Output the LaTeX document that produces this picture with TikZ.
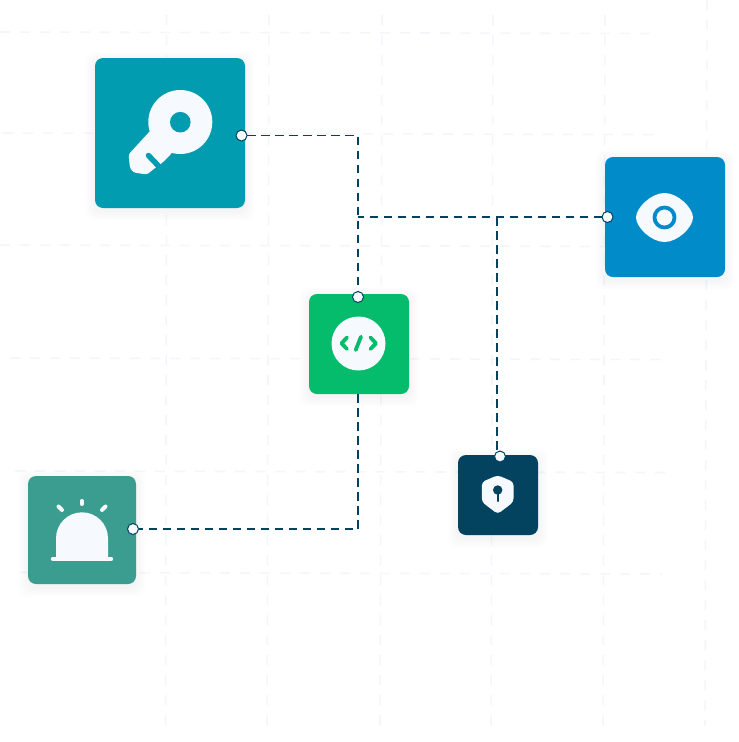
\documentclass[tikz,border=0pt]{standalone}
\definecolor{gridc}{HTML}{F3F7FB}
\definecolor{wht}{HTML}{F6FAFF}
\definecolor{navy}{HTML}{03435F}
\definecolor{keyc}{HTML}{029CB0}
\definecolor{eyec}{HTML}{018BC8}
\definecolor{codec}{HTML}{04BC6B}
\definecolor{sirenc}{HTML}{3A9D90}
\tikzset{
  x=1pt,y=-1pt,
  gridline/.style={draw=gridc,line width=1.6pt,dash pattern=on 10pt off 10pt},
  tile/.style={rectangle,rounded corners=8pt,inner sep=0pt,outer sep=0pt,minimum width=#1,minimum height=#1},
  conn/.style={draw=navy,line width=1.4pt,dash pattern=on 8.5pt off 5.5pt},
  port/.style={circle,draw=navy,fill=wht,line width=1pt,minimum size=11pt,inner sep=0pt,outer sep=0pt},
  glyph/.style={fill=wht,draw=none},
}
\newcommand{\softshadow}[3]{% cx cy size
  \foreach \g in {1,2,...,10}{
    \fill[black,opacity=0.005,rounded corners=9pt]
      ({#1-#3/2-\g*1.0},{#2-#3/2-\g*1.0+3}) rectangle ({#1+#3/2+\g*1.0},{#2+#3/2+\g*1.0+3});
  }
}
\begin{document}
\begin{tikzpicture}
\useasboundingbox (0,0) rectangle (739,742);
\fill[white] (0,0) rectangle (739,742);
% background grid
\draw[gridline] (0,32) -- (650,33.5);
\draw[gridline] (3,133) -- (655,134.5);
\draw[gridline] (0,245) -- (660,246.5);
\draw[gridline] (10,358) -- (662,359.5);
\draw[gridline] (15,471) -- (665,472.5);
\draw[gridline] (20,572.5) -- (662,574);
\draw[gridline] (166.7,15) -- (165.5,727);
\draw[gridline] (269,15) -- (267,727);
\draw[gridline] (382,15) -- (380,727);
\draw[gridline] (493,15) -- (491,727);
\draw[gridline] (605,15) -- (603,727);
\draw[gridline] (707,0) -- (705,725);
% shadows
\softshadow{170}{133}{150}
\softshadow{665}{217}{120}
\softshadow{359}{344}{100}
\softshadow{498}{495}{80}
\softshadow{82}{530}{108}
% tiles
\node[tile=150pt,fill=keyc] (keybox) at (170,133) {};
\node[tile=120pt,fill=eyec] (eyebox) at (665,217) {};
\node[tile=100pt,fill=codec] (codebox) at (359,344) {};
\node[tile=80pt,fill=navy] (shieldbox) at (498,495) {};
\node[tile=108pt,fill=sirenc] (sirenbox) at (82,530) {};
% connector helpers
\coordinate (jmain) at (358,217);
\coordinate (jshield) at (497,217);
\coordinate (eshield) at (497,452);
\coordinate (ecode) at (358,394);
% ports
\node[port] (pkey) at (241.5,135.5) {};
\node[port] (peye) at (607.5,217) {};
\node[port] (pcode) at (358,297) {};
\node[port] (pshield) at (500,456.5) {};
\node[port] (psiren) at (133,529) {};
% connectors
\draw[conn] (pkey) -| (pcode);
\draw[conn] (peye) -- (jmain);
\draw[conn] (jshield) -- (eshield);
\draw[conn] (ecode) |- (psiren);
% key icon
\fill[glyph] (180.3,122) circle (32);
\fill[glyph,rounded corners=2.5pt] (151,130) -- (128.5,154.5) -- (130,168) -- (133.5,172.5) -- (147,174.5) -- (155,168) -- (161.5,163.5) -- (172,153) -- (180,130) -- cycle;
\fill[keyc] (180.3,122.2) circle (10.3);
\draw[keyc,line width=5.5pt,line cap=round] (148.5,155.5) -- (158.5,166);
% eye icon
\fill[glyph] (636,217.5) .. controls (636,208) and (651,193) .. (664.5,193) .. controls (678,193) and (693,208) .. (693,217.5)
  .. controls (693,227) and (678,242) .. (664.5,242) .. controls (651,242) and (636,227) .. (636,217.5) -- cycle;
\draw[eyec,line width=3.8pt] (664.5,217.5) circle (10);
% code icon
\fill[glyph] (358.5,343.5) circle (27);
\draw[codec,line width=3.8pt,line cap=round,line join=round] (347,337.5) -- (341.5,343.3) -- (347,349);
\draw[codec,line width=3.8pt,line cap=round,line join=round] (370.5,337.5) -- (376,343.3) -- (370.5,349);
\draw[codec,line width=3.8pt,line cap=round] (361,336.7) -- (355.7,350);
% shield icon
\fill[glyph,rounded corners=3.5pt] (497.7,475.2) -- (513.5,482) -- (513.5,502) -- (497.7,514) -- (481.9,502) -- (481.9,482) -- cycle;
\fill[navy] (497.7,490) circle (4.7);
\draw[navy,line width=2.4pt,line cap=round] (497.7,491) -- (497.7,501);
% siren icon
\fill[glyph] (56,557) -- (56,538.3) arc[start angle=180,end angle=360,radius=26] -- (108,557) -- cycle;
\draw[wht,line width=4pt,line cap=round] (52.8,558.8) -- (111.2,558.8);
\draw[wht,line width=4pt,line cap=round] (81.8,501) -- (81.8,504);
\draw[wht,line width=4pt,line cap=round] (58.5,506.5) -- (62,510);
\draw[wht,line width=4pt,line cap=round] (105.5,506.5) -- (102,510);
\end{tikzpicture}
\end{document}
